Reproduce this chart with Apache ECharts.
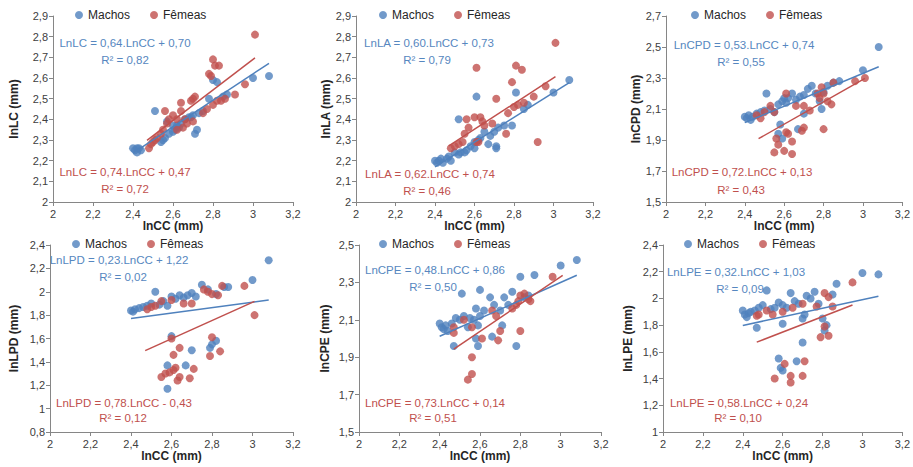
<!DOCTYPE html>
<html>
<head>
<meta charset="utf-8">
<script src="https://cdn.jsdelivr.net/npm/echarts@6/dist/echarts.min.js"></script>
<style>
  html, body { margin: 0; padding: 0; background: #fff; }
  #chart { width: 913px; height: 467px; }
</style>
</head>
<body>
<div id="chart"></div>
<script>
// lnLC x lnCC
const lcMachos = [[2.40,2.26],[2.41,2.25],[2.42,2.24],[2.43,2.26],[2.44,2.25],[2.42,2.26],[2.51,2.44],[2.54,2.29],[2.55,2.30],[2.56,2.31],
  [2.57,2.39],[2.58,2.33],[2.60,2.34],[2.60,2.37],[2.61,2.35],[2.62,2.37],[2.63,2.36],[2.64,2.38],[2.66,2.40],[2.68,2.41],[2.69,2.41],
  [2.70,2.42],[2.71,2.33],[2.72,2.35],[2.73,2.43],[2.75,2.44],[2.78,2.50],[2.80,2.59],[2.82,2.58],[2.85,2.51],[2.87,2.52],[3.00,2.60],[3.08,2.61]];
const lcFemeas = [[2.48,2.26],[2.49,2.28],[2.50,2.29],[2.51,2.30],[2.52,2.31],[2.54,2.33],[2.55,2.35],[2.56,2.44],[2.57,2.38],[2.58,2.40],
  [2.60,2.42],[2.62,2.40],[2.62,2.35],[2.64,2.44],[2.64,2.48],[2.65,2.36],[2.66,2.40],[2.67,2.38],[2.69,2.49],[2.70,2.50],[2.71,2.51],
  [2.70,2.39],[2.75,2.43],[2.77,2.45],[2.78,2.62],[2.79,2.61],[2.80,2.47],[2.80,2.69],[2.81,2.66],[2.83,2.66],[2.82,2.49],[2.84,2.49],
  [2.86,2.50],[2.91,2.52],[2.96,2.57],[3.01,2.81]];
// lnLA x lnCC
const laMachos = [[2.40,2.20],[2.41,2.19],[2.42,2.20],[2.43,2.21],[2.44,2.19],[2.46,2.21],[2.47,2.22],[2.48,2.20],[2.50,2.24],[2.52,2.40],
  [2.52,2.23],[2.53,2.24],[2.55,2.24],[2.56,2.25],[2.58,2.27],[2.60,2.29],[2.60,2.26],[2.61,2.51],[2.62,2.30],[2.63,2.31],[2.65,2.34],
  [2.67,2.28],[2.68,2.32],[2.70,2.34],[2.71,2.27],[2.71,2.26],[2.72,2.36],[2.75,2.37],[2.79,2.37],[2.81,2.53],[2.85,2.45],[2.87,2.47],
  [3.00,2.53],[3.08,2.59]];
const laFemeas = [[2.48,2.26],[2.50,2.27],[2.52,2.28],[2.54,2.29],[2.55,2.33],[2.56,2.40],[2.57,2.36],[2.60,2.41],[2.61,2.29],[2.61,2.65],
  [2.62,2.29],[2.63,2.41],[2.64,2.39],[2.65,2.37],[2.69,2.38],[2.71,2.50],[2.76,2.33],[2.77,2.43],[2.79,2.58],[2.80,2.46],[2.81,2.66],
  [2.82,2.47],[2.84,2.64],[2.85,2.48],[2.90,2.51],[2.92,2.29],[2.96,2.56],[3.01,2.77]];
// lnCPD x lnCC
const cpdMachos = [[2.40,2.05],[2.41,2.04],[2.42,2.06],[2.43,2.03],[2.44,2.05],[2.46,2.07],[2.48,2.08],[2.50,2.09],[2.51,2.20],[2.53,2.10],
  [2.55,2.08],[2.57,2.13],[2.57,1.94],[2.58,2.00],[2.59,2.15],[2.59,1.91],[2.60,2.17],[2.61,2.14],[2.62,2.17],[2.64,2.20],[2.66,2.16],
  [2.67,1.97],[2.68,2.18],[2.70,2.19],[2.70,2.07],[2.72,2.23],[2.74,2.25],[2.76,2.20],[2.78,2.15],[2.79,2.10],[2.80,2.21],[2.82,2.25],
  [2.85,2.27],[2.88,2.28],[3.00,2.35],[3.08,2.50]];
const cpdFemeas = [[2.46,2.06],[2.48,2.04],[2.50,2.08],[2.53,2.12],[2.55,2.08],[2.55,1.82],[2.56,1.91],[2.57,1.87],[2.60,1.83],[2.61,1.95],
  [2.61,2.20],[2.62,1.94],[2.64,1.81],[2.64,1.89],[2.66,2.12],[2.69,1.96],[2.70,1.98],[2.70,2.12],[2.73,2.09],[2.77,2.20],[2.78,2.17],
  [2.79,2.24],[2.80,2.20],[2.80,1.97],[2.82,2.15],[2.84,2.13],[2.85,2.27],[2.96,2.28],[3.01,2.30]];
// lnLPD x lnCC
const lpdMachos = [[2.40,1.84],[2.41,1.83],[2.42,1.85],[2.44,1.86],[2.46,1.87],[2.48,1.88],[2.50,1.90],[2.52,2.00],[2.54,1.89],[2.56,1.92],
  [2.58,1.88],[2.58,1.17],[2.58,1.37],[2.60,1.96],[2.60,1.62],[2.62,1.94],[2.64,1.97],[2.66,1.95],[2.67,1.37],[2.68,1.97],[2.70,1.99],
  [2.70,1.50],[2.72,1.96],[2.75,2.06],[2.78,2.02],[2.79,1.52],[2.80,1.55],[2.82,1.58],[2.82,1.98],[2.86,2.04],[2.88,2.04],[3.00,2.10],[3.08,2.27]];
const lpdFemeas = [[2.48,1.85],[2.50,1.87],[2.52,1.88],[2.55,1.92],[2.55,1.27],[2.57,1.30],[2.59,1.31],[2.60,1.60],[2.60,1.93],[2.61,1.33],
  [2.61,1.46],[2.62,1.35],[2.63,1.24],[2.64,1.27],[2.64,1.52],[2.66,1.90],[2.69,1.26],[2.70,1.90],[2.71,1.34],[2.76,2.02],[2.78,2.00],
  [2.79,1.45],[2.80,1.98],[2.80,1.61],[2.83,1.97],[2.84,1.49],[2.85,2.05],[2.96,2.05],[3.01,1.80]];
// lnCPE x lnCC
const cpeMachos = [[2.40,2.08],[2.41,2.06],[2.42,2.05],[2.43,2.07],[2.44,2.04],[2.46,2.08],[2.47,1.96],[2.48,2.11],[2.50,2.10],[2.51,2.24],
  [2.52,2.12],[2.54,2.06],[2.55,2.11],[2.57,2.10],[2.58,2.16],[2.58,2.00],[2.59,2.07],[2.59,1.96],[2.60,2.26],[2.60,2.12],[2.62,2.15],
  [2.65,2.22],[2.66,2.01],[2.67,2.18],[2.70,2.15],[2.71,2.07],[2.72,2.22],[2.74,2.18],[2.76,2.25],[2.78,1.96],[2.80,2.33],[2.82,2.22],
  [2.84,2.23],[2.87,2.34],[3.00,2.39],[3.08,2.42]];
const cpeFemeas = [[2.47,2.03],[2.47,2.06],[2.52,2.10],[2.54,1.78],[2.56,1.81],[2.56,1.90],[2.56,2.06],[2.61,2.00],[2.66,2.15],[2.68,2.12],
  [2.69,1.99],[2.70,2.04],[2.76,2.16],[2.78,2.18],[2.79,2.20],[2.80,2.23],[2.80,2.04],[2.82,2.24],[2.84,2.21],[2.85,2.20],[2.96,2.33]];
// lnLPE x lnCC
const lpeMachos = [[2.40,1.91],[2.41,1.88],[2.42,1.86],[2.43,1.89],[2.44,1.90],[2.46,1.91],[2.47,1.78],[2.48,1.93],[2.50,1.95],[2.52,2.06],
  [2.54,1.92],[2.56,1.93],[2.58,1.97],[2.58,1.55],[2.59,1.48],[2.60,1.95],[2.60,1.81],[2.60,1.46],[2.62,1.93],[2.64,2.04],[2.66,1.98],
  [2.67,1.53],[2.68,1.96],[2.70,1.85],[2.70,1.67],[2.71,1.88],[2.72,2.02],[2.74,2.00],[2.76,2.05],[2.78,1.96],[2.80,1.85],[2.81,1.76],
  [2.82,1.80],[2.85,2.03],[2.87,2.11],[3.00,2.19],[3.08,2.18]];
const lpeFemeas = [[2.47,1.87],[2.48,1.88],[2.52,1.91],[2.55,1.88],[2.56,1.40],[2.60,1.90],[2.61,1.51],[2.64,1.42],[2.64,1.37],[2.65,1.93],
  [2.70,1.96],[2.70,1.42],[2.71,1.53],[2.77,1.94],[2.79,1.71],[2.81,1.79],[2.81,2.04],[2.83,2.01],[2.83,1.72],[2.85,1.94],[2.95,2.12]];

// trend lines (slope, intercept) and the x span they cover
const eqMachos = [[0.64,0.70],[0.60,0.73],[0.53,0.74],[0.23,1.22],[0.48,0.86],[0.32,1.03]];
const eqFemeas = [[0.74,0.47],[0.62,0.74],[0.72,0.13],[0.78,-0.43],[0.73,0.14],[0.58,0.24]];
const spanMachos = [[2.40,3.08],[2.40,3.08],[2.40,3.08],[2.40,3.08],[2.40,3.08],[2.40,3.08]];
const spanFemeas = [[2.47,3.01],[2.47,3.01],[2.47,3.01],[2.47,3.01],[2.47,3.01],[2.47,2.95]];

const txtMachos = ['LnLC = 0,64.LnCC + 0,70','LnLA = 0,60.LnCC + 0,73','LnCPD = 0,53.LnCC + 0,74',
  'LnLPD = 0,23.LnCC + 1,22','LnCPE = 0,48.LnCC + 0,86','LnLPE = 0,32.LnCC + 1,03'];
const txtFemeas = ['LnLC = 0,74.LnCC + 0,47','LnLA = 0,62.LnCC + 0,74','LnCPD = 0,72.LnCC + 0,13',
  'LnLPD = 0,78.LnCC - 0,43','LnCPE = 0,73.LnCC + 0,14','LnLPE = 0,58.LnCC + 0,24'];
const r2Machos = ['0,82','0,79','0,55','0,02','0,50','0,09'];
const r2Femeas = ['0,72','0,46','0,43','0,12','0,51','0,10'];

const yNames = ['lnLC (mm)','lnLA (mm)','lnCPD (mm)','lnLPD (mm)','lnCPE (mm)','lnLPE (mm)'];
const yMin = [2, 2, 1.5, 0.8, 1.5, 1];
const yMax = [2.9, 2.9, 2.7, 2.4, 2.5, 2.4];
const yStep = [0.1, 0.1, 0.2, 0.2, 0.2, 0.2];
const xName = 'lnCC (mm)';
const xTicks = { min: 2, max: 3.2, step: 0.2 };

const machos = [lcMachos, laMachos, cpdMachos, lpdMachos, cpeMachos, lpeMachos];
const femeas = [lcFemeas, laFemeas, cpdFemeas, lpdFemeas, cpeFemeas, lpeFemeas];

const BLUE = '#4f81bd', RED = '#c0504d';
const BLUE_TXT = '#5687c0', RED_TXT = '#c0504d';
const FONT = '"Liberation Sans", Arial, sans-serif';

// layout: [left, top, width, height] of each plot area
const grids = [
  [53, 16, 240, 186], [356, 16, 237, 186], [666, 16, 240, 186],
  [50, 245, 243, 187], [359, 245, 242, 187], [663, 245, 242, 187]
];
const yGap = [33, 22, 22, 30, 28, 29];
const xGap = [18, 18, 18, 14, 14, 14];
const legendLeft = [75, 379, 691, 72, 379, 684];
// equation text centres: blue eq x, blue r2 x, red eq x, red r2 x
const eqX = [
  [125, 125, 125, 125], [429, 427, 430, 427], [744, 741, 742, 741],
  [119, 123, 124, 123], [435, 433, 435, 433], [736, 740, 739, 738]
];
const eqDy = [[27, 44, -30, -13], [27, 44, -28, -11], [29, 46, -30, -12],
  [15, 32, -29, -14], [25, 42, -29, -14], [27, 44, -29, -14]];

const fmt = v => String(+v.toFixed(2)).replace('.', ',');
const axisLine = { lineStyle: { color: '#868686', width: 1 } };
const axisTick = { show: true, length: 4, lineStyle: { color: '#868686' } };

const chart = echarts.init(document.getElementById('chart'), null, { renderer: 'svg' });

const grid = [], xAxis = [], yAxis = [], series = [], legend = [], graphic = [];
const trend = (eq, span) => span.map(x => [x, eq[0] * x + eq[1]]);

for (let i = 0; i < 6; i++) {
  const g = grids[i];
  grid.push({ left: g[0], top: g[1], width: g[2], height: g[3] });
  xAxis.push({
    gridIndex: i, type: 'value', min: xTicks.min, max: xTicks.max, interval: xTicks.step,
    name: xName, nameLocation: 'middle', nameGap: xGap[i],
    nameTextStyle: { fontFamily: FONT, fontSize: 12, fontWeight: 'bold', color: '#262626' },
    axisLine: axisLine, axisTick: axisTick, splitLine: { show: false },
    axisLabel: { formatter: fmt, fontFamily: FONT, fontSize: 11, color: '#404040', margin: 6 }
  });
  yAxis.push({
    gridIndex: i, type: 'value', min: yMin[i], max: yMax[i], interval: yStep[i],
    name: yNames[i], nameLocation: 'middle', nameGap: yGap[i],
    nameTextStyle: { fontFamily: FONT, fontSize: 12, fontWeight: 'bold', color: '#262626' },
    axisLine: Object.assign({ show: true }, axisLine), axisTick: axisTick, splitLine: { show: false },
    axisLabel: { formatter: fmt, fontFamily: FONT, fontSize: 11, color: '#404040', margin: 5 }
  });
  series.push(
    { name: 'Machos', type: 'scatter', xAxisIndex: i, yAxisIndex: i, data: machos[i],
      symbolSize: 8, itemStyle: { color: BLUE }, z: 2 },
    { name: 'Fêmeas', type: 'scatter', xAxisIndex: i, yAxisIndex: i, data: femeas[i],
      symbolSize: 8, itemStyle: { color: RED }, z: 3 },
    { name: 'Linear (Machos)', type: 'line', xAxisIndex: i, yAxisIndex: i,
      data: trend(eqMachos[i], spanMachos[i]), showSymbol: false, silent: true,
      lineStyle: { color: BLUE, width: 1.5 }, z: 4 },
    { name: 'Linear (Fêmeas)', type: 'line', xAxisIndex: i, yAxisIndex: i,
      data: trend(eqFemeas[i], spanFemeas[i]), showSymbol: false, silent: true,
      lineStyle: { color: RED, width: 1.5 }, z: 4 }
  );
  legend.push({
    data: ['Machos', 'Fêmeas'], left: legendLeft[i], top: g[1] - 7,
    icon: 'circle', itemWidth: 8, itemHeight: 8, itemGap: 20, padding: 0,
    textStyle: { fontFamily: FONT, fontSize: 12, color: '#262626' }
  });
  const top = g[1], bottom = g[1] + g[3];
  const txt = (x, y, text, color) => ({
    type: 'text', x: x, y: y, silent: true,
    style: { text: text, fill: color, font: '11.5px ' + FONT, align: 'center', verticalAlign: 'middle' }
  });
  graphic.push(
    txt(eqX[i][0], top + eqDy[i][0], txtMachos[i], BLUE_TXT),
    txt(eqX[i][1], top + eqDy[i][1], 'R² = ' + r2Machos[i], BLUE_TXT),
    txt(eqX[i][2], bottom + eqDy[i][2], txtFemeas[i], RED_TXT),
    txt(eqX[i][3], bottom + eqDy[i][3], 'R² = ' + r2Femeas[i], RED_TXT)
  );
}

chart.setOption({
  animation: false,
  backgroundColor: '#fff',
  grid: grid, xAxis: xAxis, yAxis: yAxis, series: series, legend: legend, graphic: graphic
});
</script>
</body>
</html>
